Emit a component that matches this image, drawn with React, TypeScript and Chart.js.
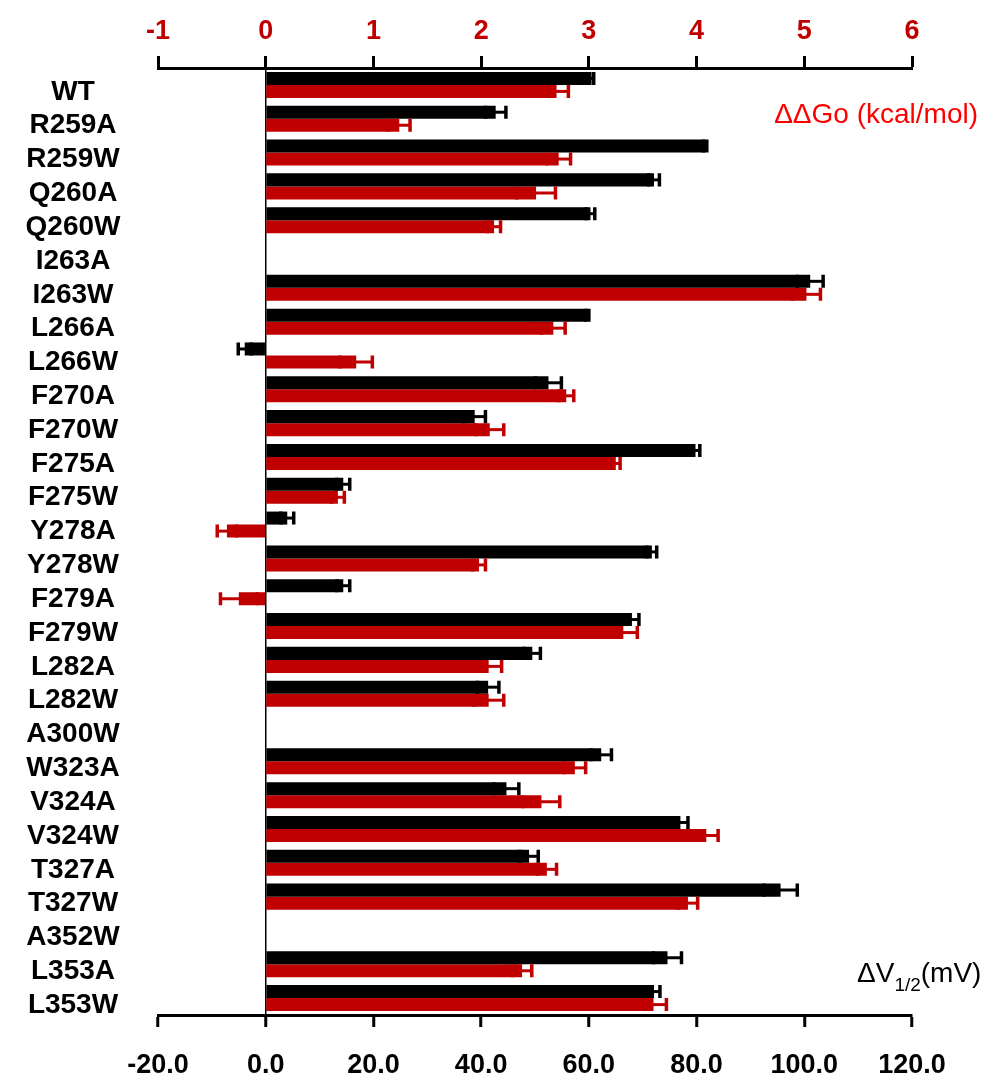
import React, { useEffect, useRef } from "react";
import { Chart, registerables } from "chart.js";

Chart.register(...registerables);

const categories = [
  "WT", "R259A", "R259W", "Q260A", "Q260W", "I263A", "I263W", "L266A", "L266W",
  "F270A", "F270W", "F275A", "F275W", "Y278A", "Y278W", "F279A", "F279W",
  "L282A", "L282W", "A300W", "W323A", "V324A", "V324W", "T327A", "T327W",
  "A352W", "L353A", "L353W",
];

// ΔV1/2 (mV) — black bars, bottom axis
const dV = [
  60.5, 42.7, 81.6, 72.1, 60.3, null, 101.1, 59.7, -3.9,
  52.5, 38.8, 79.8, 14.4, 4.0, 71.7, 14.4, 68.0,
  49.5, 41.3, null, 62.3, 44.7, 77.0, 48.9, 95.6,
  null, 74.6, 72.1,
];
const dVerr = [
  0.4, 1.9, 0.3, 1.0, 0.8, null, 2.4, 0.3, 1.2,
  2.4, 2.0, 0.8, 1.2, 1.2, 0.9, 1.2, 1.3,
  1.5, 2.0, null, 1.9, 2.3, 1.4, 1.7, 3.1,
  null, 2.6, 1.1,
];

// ΔΔGo (kcal/mol) — red bars, top axis
const ddG = [
  2.70, 1.24, 2.72, 2.51, 2.12, null, 5.02, 2.67, 0.84,
  2.79, 2.08, 3.25, 0.67, -0.36, 1.98, -0.25, 3.32,
  2.07, 2.07, null, 2.87, 2.56, 4.09, 2.61, 3.92,
  null, 2.38, 3.60,
];
const ddGerr = [
  0.11, 0.10, 0.11, 0.18, 0.06, null, 0.13, 0.11, 0.15,
  0.07, 0.13, 0.04, 0.06, 0.09, 0.06, 0.17, 0.13,
  0.12, 0.14, null, 0.10, 0.17, 0.11, 0.09, 0.09,
  null, 0.09, 0.12,
];

const bottomTicks = { min: -20, max: 120, step: 20 };
const topTicks = { min: -1, max: 6, step: 1 };

const FONT = '"Liberation Sans", Arial, Helvetica, sans-serif';
const BLACK = "#000000";
const RED = "#c00000";
const CAPTION_RED = "#ff0000";

const W = 985;
const H = 1086;
const PLOT_LEFT = 158;
const PLOT_RIGHT = 912;
const PLOT_TOP = 68;
const PLOT_BOTTOM = 1015;
const Y_LABEL_CENTER = 73;
const Y_FONT_SIZE = 28;

const errorBarPlugin = {
  id: "errorBars",
  afterDatasetsDraw(chart: any) {
    const ctx = chart.ctx;
    const sets = [
      { i: 0, err: dVerr, color: BLACK },
      { i: 1, err: ddGerr, color: RED },
    ];
    sets.forEach(({ i, err, color }) => {
      const meta = chart.getDatasetMeta(i);
      const ds = chart.data.datasets[i];
      const scale = chart.scales[ds.xAxisID];
      meta.data.forEach((bar: any, j: number) => {
        const v = ds.data[j];
        const e = err[j];
        if (v == null || e == null) return;
        const p = bar.getProps(["y", "height"], true);
        const x1 = scale.getPixelForValue(v - e);
        const x2 = scale.getPixelForValue(v + e);
        const h = p.height / 2;
        ctx.save();
        ctx.strokeStyle = color;
        ctx.lineWidth = 3;
        ctx.beginPath();
        ctx.moveTo(x1, p.y);
        ctx.lineTo(x2, p.y);
        ctx.stroke();
        ctx.lineWidth = 3.5;
        ctx.beginPath();
        ctx.moveTo(x1, p.y - h);
        ctx.lineTo(x1, p.y + h);
        ctx.moveTo(x2, p.y - h);
        ctx.lineTo(x2, p.y + h);
        ctx.stroke();
        ctx.restore();
      });
    });
  },
};

const captionPlugin = {
  id: "captions",
  afterDraw(chart: any) {
    const ctx = chart.ctx;
    ctx.save();
    ctx.textBaseline = "alphabetic";
    ctx.font = `28px ${FONT}`;
    ctx.fillStyle = CAPTION_RED;
    ctx.textAlign = "right";
    ctx.fillText("ΔΔGo (kcal/mol)", 978, 123);
    ctx.fillStyle = BLACK;
    ctx.textAlign = "left";
    let x = 857;
    ctx.font = `28px ${FONT}`;
    ctx.fillText("ΔV", x, 982);
    x += ctx.measureText("ΔV").width;
    ctx.font = `19px ${FONT}`;
    ctx.fillText("1/2", x, 991);
    x += ctx.measureText("1/2").width;
    ctx.font = `28px ${FONT}`;
    ctx.fillText("(mV)", x, 982);
    ctx.restore();
  },
};

function widestLabel(): number {
  const c = document.createElement("canvas");
  const ctx = c.getContext("2d");
  if (!ctx) return 100;
  ctx.font = `bold ${Y_FONT_SIZE}px ${FONT}`;
  return Math.max(...categories.map((s) => ctx.measureText(s).width));
}

export default function App() {
  const ref = useRef<HTMLCanvasElement | null>(null);

  useEffect(() => {
    if (!ref.current) return;
    const widest = widestLabel();
    const yPad = PLOT_LEFT - Y_LABEL_CENTER - widest / 2;

    const chart = new Chart(ref.current, {
      type: "bar",
      data: {
        labels: categories,
        datasets: [
          {
            label: "ΔV1/2 (mV)",
            data: dV as any,
            xAxisID: "x",
            backgroundColor: BLACK,
            borderWidth: 0,
            categoryPercentage: 0.77,
            barPercentage: 1.0,
          },
          {
            label: "ΔΔGo (kcal/mol)",
            data: ddG as any,
            xAxisID: "x2",
            backgroundColor: RED,
            borderWidth: 0,
            categoryPercentage: 0.77,
            barPercentage: 1.0,
          },
        ],
      },
      options: {
        indexAxis: "y",
        responsive: false,
        animation: false,
        devicePixelRatio: 1,
        layout: { padding: { left: 0, right: W - PLOT_RIGHT, top: 0, bottom: 0 } },
        plugins: {
          legend: { display: false },
          tooltip: { enabled: false },
          title: { display: false },
        },
        scales: {
          y: {
            type: "category",
            position: "left",
            grid: { display: false, drawTicks: false },
            border: { display: false },
            ticks: {
              autoSkip: false,
              color: BLACK,
              font: { family: FONT, size: Y_FONT_SIZE, weight: "bold" },
              crossAlign: "center",
              padding: yPad,
              labelOffset: 7,
            },
            afterFit: (s: any) => {
              s.width = PLOT_LEFT;
              s.paddingTop = 0;
              s.paddingBottom = 0;
            },
          },
          x: {
            type: "linear",
            position: "bottom",
            min: bottomTicks.min,
            max: bottomTicks.max,
            ticks: {
              stepSize: bottomTicks.step,
              color: BLACK,
              font: { family: FONT, size: 27, weight: "bold" },
              padding: 22,
              maxRotation: 0,
              callback: (v: any) => Number(v).toFixed(1),
            },
            grid: {
              drawOnChartArea: true,
              drawTicks: true,
              color: (c: any) => (c.tick && c.tick.value === 0 ? BLACK : "rgba(0,0,0,0)"),
              lineWidth: 1.5,
              tickColor: BLACK,
              tickWidth: 3,
              tickLength: 12,
            },
            border: { display: true, color: BLACK, width: 3 },
            afterFit: (s: any) => {
              s.height = H - PLOT_BOTTOM;
              s.paddingLeft = 0;
              s.paddingRight = 0;
            },
          },
          x2: {
            type: "linear",
            position: "top",
            min: topTicks.min,
            max: topTicks.max,
            ticks: {
              stepSize: topTicks.step,
              color: RED,
              font: { family: FONT, size: 27, weight: "bold" },
              padding: 8,
              maxRotation: 0,
            },
            grid: {
              drawOnChartArea: false,
              drawTicks: true,
              tickColor: BLACK,
              tickWidth: 3,
              tickLength: 12,
            },
            border: { display: true, color: BLACK, width: 3 },
            afterFit: (s: any) => {
              s.height = PLOT_TOP;
              s.paddingLeft = 0;
              s.paddingRight = 0;
            },
          },
        },
      } as any,
      plugins: [errorBarPlugin, captionPlugin],
    });
    return () => chart.destroy();
  }, []);

  return (
    <div style={{ position: "absolute", left: 0, top: 0, width: W, height: H, background: "#fff" }}>
      <canvas ref={ref} width={W} height={H} style={{ display: "block", width: W, height: H }} />
    </div>
  );
}
